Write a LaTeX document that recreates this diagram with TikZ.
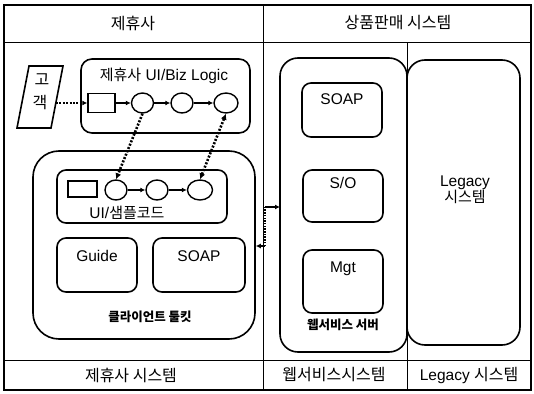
\documentclass[tikz,border=0pt]{standalone}
\usepackage{fontspec}
\setmainfont{Liberation Sans}
\newfontfamily\kr{Noto Sans CJK KR}
\usetikzlibrary{shapes.geometric,arrows.meta}
\tikzset{
  rb/.style={draw, line width=1.6pt, inner sep=0pt},
  sq/.style={draw, line width=1.4pt, minimum width=27pt, minimum height=19pt, inner sep=0pt},
  circ/.style={draw, ellipse, line width=1.4pt, minimum width=22pt, minimum height=20pt, inner sep=0pt},
  arr/.style={-{Latex[length=5pt,width=5pt]}, line width=1.6pt},
  dotarr/.style={line width=2.6pt, dash pattern=on 2pt off 1.6pt, {Latex[length=6pt,width=6pt]}-{Latex[length=6pt,width=6pt]}},
  hdr/.style={font=\kr\fontsize{16}{19}\selectfont},
  lbl/.style={font=\fontsize{15.5}{18}\selectfont},
  bld/.style={font=\kr\bfseries\fontsize{12.5}{14}\selectfont},
  thin/.style={line width=1pt}
}
\begin{document}
\begin{tikzpicture}[x=1pt,y=-1pt]
\useasboundingbox (0,0) rectangle (534,393);
% frame
\draw[line width=2pt] (4,5) rectangle (531,390);
\draw[thin] (4,43) -- (531,43);
\draw[thin] (4,360) -- (531,360);
\draw[thin] (263,5) -- (263,390);
\draw[thin] (407,43) -- (407,390);
% header / footer
\node[hdr] (h1) at (133,23) {제휴사};
\node[hdr] (h2) at (398,23) {상품판매 시스템};
\node[hdr] (f1) at (131,375) {제휴사 시스템};
\node[hdr] (f2) at (334,375) {웹서비스시스템};
\node[font=\fontsize{15.5}{18}\selectfont] (f3) at (469,375) {Legacy {\kr\fontsize{16}{19}\selectfont 시스템}};
% customer
\draw[line width=1.6pt] (29,66) -- (63,66) -- (51,128) -- (17,128) -- cycle;
\node[hdr] (c1t) at (42,80) {고};
\node[hdr] (c2t) at (40,103) {객};
\coordinate (custR) at (56,103);
% biz logic box
\node[rb, rounded corners=11pt, minimum width=169pt, minimum height=74pt] (biz) at (165.5,96) {};
\node[lbl] (bizl) at (164,76) {{\kr\fontsize{15}{18}\selectfont 제휴사} UI/Biz Logic};
\node[sq] (bsq) at (101.5,103) {};
\node[circ] (bc1) at (142.5,103) {};
\node[circ] (bc2) at (182,103) {};
\node[circ, minimum width=24pt] (bc3) at (226,103) {};
\draw[line width=2pt, dash pattern=on 2pt off 1.4pt, -{Latex[length=5pt,width=5pt]}] (custR) -- (bsq.west);
\draw[arr] (bsq) -- (bc1);
\draw[arr] (bc1) -- (bc2);
\draw[arr] (bc2) -- (bc3);
% client toolkit
\node[rb, rounded corners=26pt, minimum width=222pt, minimum height=188pt] (ctk) at (144,245) {};
\node[rb, rounded corners=9pt, minimum width=170pt, minimum height=53pt] (ui) at (142,196.5) {};
\node[sq, minimum width=29pt, minimum height=16pt] (usq) at (82.5,189) {};
\node[circ] (uc1) at (116,190) {};
\node[circ] (uc2) at (157,190) {};
\node[circ, minimum width=25pt] (uc3) at (200,190) {};
\draw[arr] (uc1) -- (uc2);
\draw[arr] (uc2) -- (uc3);
\node[font=\fontsize{15.5}{18}\selectfont] (uil) at (127,213) {UI/{\kr\fontsize{15}{18}\selectfont 샘플코드}};
\node[rb, rounded corners=9pt, minimum width=80pt, minimum height=54pt] (guide) at (97,265) {};
\node[lbl] (guidel) at (97,256) {Guide};
\node[rb, rounded corners=9pt, minimum width=92pt, minimum height=54pt] (soap1) at (199,265) {};
\node[lbl] (soap1l) at (199,256) {SOAP};
\node[bld] (ctkl) at (150,317) {클라이언트 툴킷};
% dotted vertical links
\draw[line width=2.6pt, dash pattern=on 2pt off 1.6pt, -{Latex[length=6pt,width=6pt]}] (bc1.south) -- (uc1.north);
\draw[dotarr] (uc3.north) -- (bc3.south);
% link toolkit <-> web server
\coordinate (j1) at (265,246);
\coordinate (j2) at (265,207);
\draw[line width=2.4pt, dash pattern=on 1.5pt off 1.2pt] (j1) -- (j2);
\draw[arr] (j1) -- (j1 -| ctk.east);
\draw[arr] (j2) -- (j2 -| 280,0);
% web service server
\node[rb, rounded corners=18pt, minimum width=127pt, minimum height=294pt] (web) at (343.5,205) {};
\node[rb, rounded corners=9pt, minimum width=80pt, minimum height=54pt] (soap2) at (342,110) {};
\node[lbl] (soap2l) at (342,99) {SOAP};
\node[rb, rounded corners=9pt, minimum width=80pt, minimum height=52pt] (so) at (343,196) {};
\node[lbl] (sol) at (343,183) {S/O};
\node[rb, rounded corners=9pt, minimum width=80pt, minimum height=63pt] (mgt) at (343,281.5) {};
\node[lbl] (mgtl) at (343,269) {Mgt};
\node[bld] (webl) at (343,325) {웹서비스 서버};
% legacy
\node[rb, rounded corners=18pt, minimum width=113pt, minimum height=285pt] (leg) at (463.5,202.5) {};
\node[lbl, align=center] (legl) at (465,190) {Legacy\\[-2pt]{\kr\fontsize{15}{18}\selectfont 시스템}};
\end{tikzpicture}
\end{document}
